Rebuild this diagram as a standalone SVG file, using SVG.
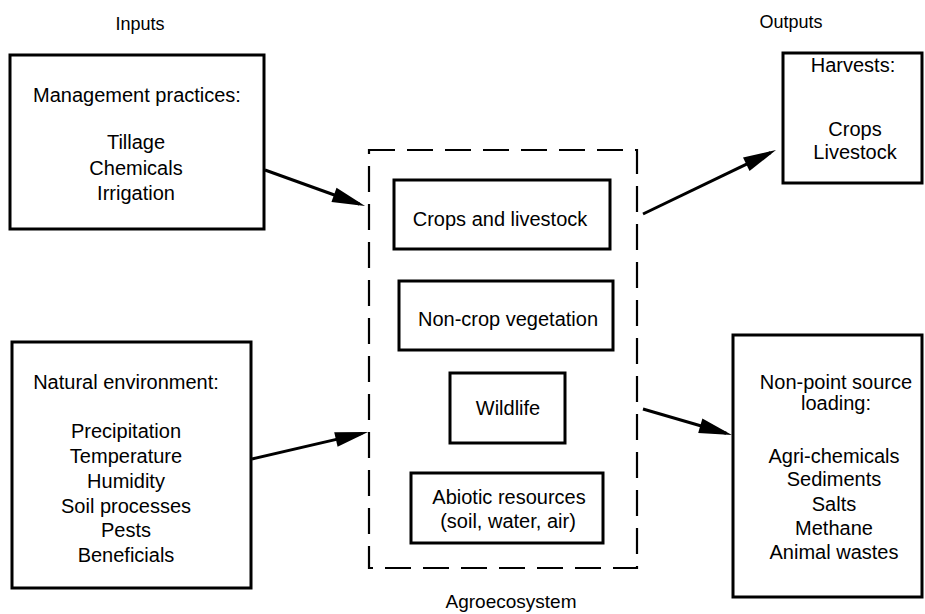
<svg xmlns="http://www.w3.org/2000/svg" width="925" height="614" viewBox="0 0 925 614">
<style>
.box{fill:#fff;stroke:#000;stroke-width:3}
.dash{fill:none;stroke:#000;stroke-width:2.2;stroke-dasharray:26 12}
.conn{fill:none;stroke:#000;stroke-width:3}
text{font-family:"Liberation Sans",Arial,Helvetica,sans-serif;font-size:20px;fill:#000;text-anchor:middle}
.hdr{font-size:18px}
</style>
<defs>
<marker id="ah" markerUnits="userSpaceOnUse" markerWidth="40" markerHeight="20" refX="-6" refY="0" orient="auto" overflow="visible">
<path d="M-33,-7.5 L0,0 L-33,7.5 Z" fill="#000"/>
</marker>
</defs>
<rect width="925" height="614" fill="#fff"/>
<text class="hdr" x="140" y="30">Inputs</text>
<text class="hdr" x="791" y="28">Outputs</text>
<g id="agroecosystem">
<rect class="dash" x="369" y="150" width="268" height="418"/>
<text x="511" y="608" style="font-size:19px">Agroecosystem</text>
</g>
<g id="management">
<rect class="box" x="10" y="55" width="254" height="174"/>
<text x="137" y="102">Management practices:</text>
<text x="136" y="149">Tillage</text>
<text x="136" y="175">Chemicals</text>
<text x="136" y="200">Irrigation</text>
</g>
<g id="natural">
<rect class="box" x="12" y="342" width="239" height="246"/>
<text x="126" y="389">Natural environment:</text>
<text x="126" y="438">Precipitation</text>
<text x="126" y="463">Temperature</text>
<text x="126" y="488">Humidity</text>
<text x="126" y="513">Soil processes</text>
<text x="126" y="537">Pests</text>
<text x="126" y="562">Beneficials</text>
</g>
<g id="crops">
<rect class="box" x="394" y="180" width="216" height="69"/>
<text x="500" y="226">Crops and livestock</text>
</g>
<g id="noncrop">
<rect class="box" x="399" y="281" width="214" height="69"/>
<text x="508" y="326">Non-crop vegetation</text>
</g>
<g id="wildlife">
<rect class="box" x="450" y="373" width="115" height="70"/>
<text x="508" y="415">Wildlife</text>
</g>
<g id="abiotic">
<rect class="box" x="411" y="473" width="192" height="70"/>
<text x="509" y="504">Abiotic resources</text>
<text x="508" y="528">(soil, water, air)</text>
</g>
<g id="harvests">
<rect class="box" x="783" y="53" width="139" height="130"/>
<text x="853" y="72">Harvests:</text>
<text x="855" y="136">Crops</text>
<text x="855" y="159">Livestock</text>
</g>
<g id="nonpoint">
<rect class="box" x="733" y="335" width="189" height="262"/>
<text x="836" y="389">Non-point source</text>
<text x="836" y="410">loading:</text>
<text x="834" y="463">Agri-chemicals</text>
<text x="834" y="486">Sediments</text>
<text x="834" y="511">Salts</text>
<text x="834" y="535">Methane</text>
<text x="834" y="559">Animal wastes</text>
</g>
<g id="connectors">
<line class="conn" x1="265" y1="170" x2="359.4" y2="204" marker-end="url(#ah)"/>
<line class="conn" x1="252" y1="459" x2="362.2" y2="433.4" marker-end="url(#ah)"/>
<line class="conn" x1="643" y1="214" x2="770.6" y2="152.6" marker-end="url(#ah)"/>
<line class="conn" x1="643" y1="409" x2="726.2" y2="433.3" marker-end="url(#ah)"/>
</g>
</svg>
